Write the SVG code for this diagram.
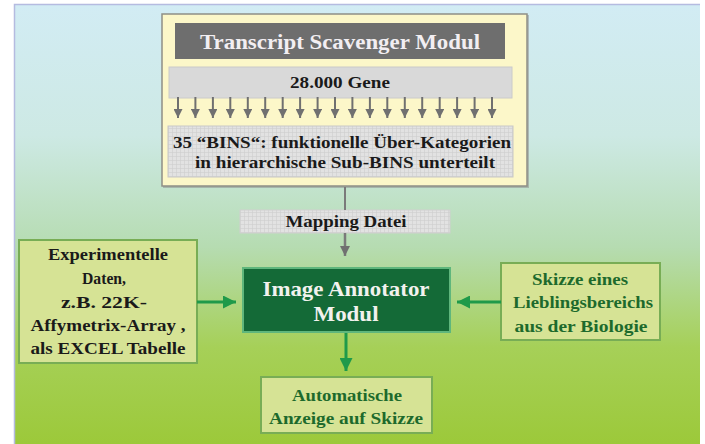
<svg xmlns="http://www.w3.org/2000/svg" width="705" height="444" viewBox="0 0 705 444">
<defs>
  <linearGradient id="bg" x1="0" y1="4" x2="0" y2="444" gradientUnits="userSpaceOnUse">
    <stop offset="0" stop-color="#d2ecf4"/>
    <stop offset="0.3" stop-color="#cde9e4"/>
    <stop offset="0.55" stop-color="#b6dcb2"/>
    <stop offset="0.78" stop-color="#a6d058"/>
    <stop offset="1" stop-color="#9cc93a"/>
  </linearGradient>
  <pattern id="grid" width="4" height="4" patternUnits="userSpaceOnUse">
    <rect width="4" height="4" fill="#e2e2e2"/>
    <path d="M0 0.5H4M0.5 0V4" stroke="#cfcfcf" stroke-width="0.6"/>
  </pattern>
  <marker id="ahGray" viewBox="0 0 10 10" refX="10" refY="5" markerWidth="10" markerHeight="10" markerUnits="userSpaceOnUse" orient="auto">
    <path d="M0 0L10 5L0 10z" fill="#707070"/>
  </marker>
  <marker id="ahSmall" viewBox="0 0 10 10" refX="10" refY="5" markerWidth="9" markerHeight="9" markerUnits="userSpaceOnUse" orient="auto">
    <path d="M0 0L10 5L0 10z" fill="#707070"/>
  </marker>
  <marker id="ahGreen" viewBox="0 0 10 10" refX="10" refY="5" markerWidth="13" markerHeight="13" markerUnits="userSpaceOnUse" orient="auto">
    <path d="M0 0L10 5L0 10z" fill="#1f9a4a"/>
  </marker>
</defs>
<style>
  text { font-family: "Liberation Serif", "Times New Roman", serif; font-weight: bold; text-anchor: middle; }
  .blk { fill: #1a1a1a; font-size: 16px; }
  .grn { fill: #1d6a2c; font-size: 16px; }
  .title { fill: #f2eef2; font-size: 22px; }
  .wht { fill: #f2f2ee; font-size: 21px; }
  .gbox { fill: #d6e395; stroke: #78ad55; stroke-width: 2; }
  .small { stroke: #707070; stroke-width: 2; fill: none; }
</style>

<rect x="0" y="0" width="705" height="444" fill="#ffffff"/>
<rect x="14" y="4" width="686" height="440" fill="url(#bg)"/>
<path d="M14.5 444V4.5H700" fill="none" stroke="#b5bbe0" stroke-width="1.5"/>

<g id="scavenger">
  <rect x="163" y="15" width="366" height="173" fill="#8a8a8a" opacity="0.5"/>
  <rect x="162" y="14" width="365" height="172" fill="#fcf7c9" stroke="#8f8f86" stroke-width="1.5"/>
  <rect x="175" y="23" width="330" height="36" fill="#6e6e6e"/>
  <text class="title" x="340" y="49" textLength="280" lengthAdjust="spacingAndGlyphs">Transcript Scavenger Modul</text>
  <rect x="169" y="67" width="343" height="31" fill="#d9d9d9" stroke="#cacaca" stroke-width="1"/>
  <text class="blk" x="340" y="88" textLength="100" lengthAdjust="spacingAndGlyphs">28.000 Gene</text>
  <g id="gene-arrows" class="small">
    <path d="M178 97V118" marker-end="url(#ahSmall)"/>
    <path d="M195.4 97V118" marker-end="url(#ahSmall)"/>
    <path d="M212.9 97V118" marker-end="url(#ahSmall)"/>
    <path d="M230.3 97V118" marker-end="url(#ahSmall)"/>
    <path d="M247.8 97V118" marker-end="url(#ahSmall)"/>
    <path d="M265.2 97V118" marker-end="url(#ahSmall)"/>
    <path d="M282.7 97V118" marker-end="url(#ahSmall)"/>
    <path d="M300.1 97V118" marker-end="url(#ahSmall)"/>
    <path d="M317.6 97V118" marker-end="url(#ahSmall)"/>
    <path d="M335 97V118" marker-end="url(#ahSmall)"/>
    <path d="M352.4 97V118" marker-end="url(#ahSmall)"/>
    <path d="M369.9 97V118" marker-end="url(#ahSmall)"/>
    <path d="M387.3 97V118" marker-end="url(#ahSmall)"/>
    <path d="M404.8 97V118" marker-end="url(#ahSmall)"/>
    <path d="M422.2 97V118" marker-end="url(#ahSmall)"/>
    <path d="M439.7 97V118" marker-end="url(#ahSmall)"/>
    <path d="M457.1 97V118" marker-end="url(#ahSmall)"/>
    <path d="M474.6 97V118" marker-end="url(#ahSmall)"/>
    <path d="M492 97V118" marker-end="url(#ahSmall)"/>
  </g>
  <rect x="168" y="126" width="345" height="51" fill="url(#grid)" stroke="#c8c8c8" stroke-width="1"/>
  <text class="blk" x="342" y="148" textLength="338" lengthAdjust="spacingAndGlyphs">35 “BINS“: funktionelle Über-Kategorien</text>
  <text class="blk" x="345" y="168" textLength="300" lengthAdjust="spacingAndGlyphs">in hierarchische Sub-BINS unterteilt</text>
</g>

<g id="mapping">
  <rect x="240" y="210" width="210" height="23" fill="url(#grid)" stroke="#cfcfcf" stroke-width="1"/>
  <text class="blk" x="346" y="227" textLength="121" lengthAdjust="spacingAndGlyphs">Mapping Datei</text>
</g>

<g id="annotator">
  <rect x="243" y="268" width="207" height="64" fill="#146a37" stroke="#5fb67c" stroke-width="2"/>
  <text class="wht" x="346" y="296" textLength="167" lengthAdjust="spacingAndGlyphs">Image Annotator</text>
  <text class="wht" x="346" y="321" textLength="65" lengthAdjust="spacingAndGlyphs">Modul</text>
</g>

<g id="experiment">
  <rect x="19" y="240" width="178" height="123" class="gbox" stroke="#93c97a"/>
  <text class="blk" x="108" y="260" textLength="120" lengthAdjust="spacingAndGlyphs">Experimentelle</text>
  <text class="blk" x="104" y="284" textLength="44" lengthAdjust="spacingAndGlyphs">Daten,</text>
  <text class="blk" x="104" y="308" textLength="86" lengthAdjust="spacingAndGlyphs">z.B. 22K-</text>
  <text class="blk" x="108" y="331" textLength="155" lengthAdjust="spacingAndGlyphs">Affymetrix-Array ,</text>
  <text class="blk" x="108" y="354" textLength="155" lengthAdjust="spacingAndGlyphs">als EXCEL Tabelle</text>
</g>

<g id="skizze">
  <rect x="501" y="263" width="159" height="77" class="gbox" stroke="#6f9f58"/>
  <text class="grn" x="580" y="285" textLength="96" lengthAdjust="spacingAndGlyphs">Skizze eines</text>
  <text class="grn" x="583" y="308" textLength="140" lengthAdjust="spacingAndGlyphs">Lieblingsbereichs</text>
  <text class="grn" x="581" y="332" textLength="133" lengthAdjust="spacingAndGlyphs">aus der Biologie</text>
</g>

<g id="anzeige">
  <rect x="261" y="377" width="171" height="56" class="gbox" stroke="#5d9a55"/>
  <text class="grn" x="347" y="401" textLength="110" lengthAdjust="spacingAndGlyphs">Automatische</text>
  <text class="grn" x="346" y="424" textLength="154" lengthAdjust="spacingAndGlyphs">Anzeige auf Skizze</text>
</g>

<g id="connectors">
  <path d="M345 187V210" stroke="#7a7a7a" stroke-width="2" fill="none"/>
  <path d="M345 233V256" stroke="#7a7a7a" stroke-width="2.5" fill="none" marker-end="url(#ahGray)"/>
  <path d="M197 302H236" stroke="#1f9a4a" stroke-width="3" fill="none" marker-end="url(#ahGreen)"/>
  <path d="M501 302H457" stroke="#1f9a4a" stroke-width="3" fill="none" marker-end="url(#ahGreen)"/>
  <path d="M346 333V371" stroke="#1f9a4a" stroke-width="3" fill="none" marker-end="url(#ahGreen)"/>
</g>
</svg>
